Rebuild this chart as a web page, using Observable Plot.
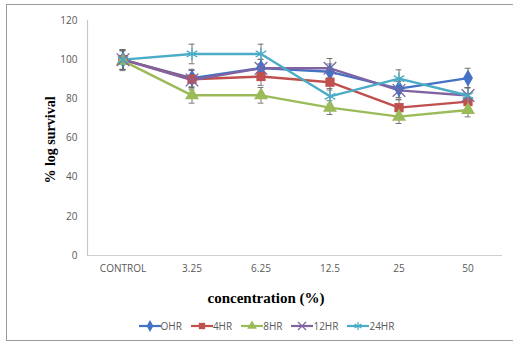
<!DOCTYPE html>
<html><head><meta charset="utf-8">
<script src="https://cdn.jsdelivr.net/npm/d3@7"></script>
<script src="https://cdn.jsdelivr.net/npm/@observablehq/plot@0.6"></script>
<style>
body{margin:0;background:#fff;}
#wrap{position:relative;width:513px;height:343px;overflow:hidden;font-family:"Open Sans",sans-serif;}
#frame{position:absolute;left:6px;top:4px;width:520px;height:337px;border:1px solid #9a9a9a;box-sizing:border-box;}
#chart{position:absolute;left:0;top:0;}
.ylab{position:absolute;left:51px;top:140px;transform:translate(-50%,-50%) rotate(-90deg);font:bold 14px "Liberation Serif",serif;color:#000;white-space:nowrap;}
.xlab{position:absolute;left:266px;top:298px;transform:translate(-50%,-50%);font:bold 15px "Liberation Serif",serif;color:#000;white-space:nowrap;}
#legend{position:absolute;left:10px;top:319px;width:513px;display:flex;justify-content:center;gap:9px;font-size:10px;color:#595959;}
#legend span{display:flex;align-items:center;}
</style></head>
<body><div id="wrap"><div id="frame"></div><div id="chart"></div>
<div class="ylab">% log survival</div><div class="xlab">concentration (%)</div><div id="legend"></div></div>
<script>
const categories = ["CONTROL","3.25","6.25","12.5","25","50"];
const seriesNames = ["OHR","4HR","8HR","12HR","24HR"];
const ohr  = [100, 90.6, 95.7, 93.8, 85.2, 90.6];
const hr4  = [100, 90.0, 91.4, 88.5, 75.5, 78.6];
const hr8  = [99.4, 81.8, 81.8, 75.5, 70.9, 74.3];
const hr12 = [100, 89.6, 95.6, 95.6, 84.3, 81.7];
const hr24 = [100, 102.9, 102.9, 81.3, 90.3, 81.7];
const errOhr  = [5, 4.5, 4.5, 4, 4.5, 5];
const errHr4  = [5, 4.5, 4.5, 4, 4, 4];
const errHr8  = [5, 4, 4, 3.5, 3.5, 3.5];
const errHr12 = [5, 5, 4.5, 5, 4.5, 4];
const errHr24 = [5, 5, 5, 4, 4.5, 4];
const yTicks = [0,20,40,60,80,100,120];
const colors = ["#4472C4","#C0504D","#9BBB59","#8064A2","#4BACC6"];
const symbols = ["diamond","square","triangle","times","asterisk"];

const values = [ohr,hr4,hr8,hr12,hr24];
const errs = [errOhr,errHr4,errHr8,errHr12,errHr24];
const data = [];
seriesNames.forEach((s,i)=>categories.forEach((c,j)=>data.push({series:s,cat:c,v:values[i][j],e:errs[i][j]})));

const W=513,H=310;
const plot = Plot.plot({
  width:W,height:H,
  marginLeft:87,marginRight:11,marginTop:20,marginBottom:55,
  style:{fontFamily:"Open Sans, sans-serif",fontSize:"10px",color:"#595959",background:"transparent"},
  x:{type:"band",domain:categories,padding:0,label:null,tickSize:0,tickPadding:9},
  y:{domain:[0,120],ticks:yTicks,label:null,tickSize:0,tickPadding:10},
  color:{domain:seriesNames,range:colors},
  symbol:{domain:seriesNames,range:symbols},
  marks:[
    Plot.axisX({tickSize:0,tickPadding:9,label:null,fill:"#595959"}),
    Plot.axisY({ticks:yTicks,tickSize:0,tickPadding:10,label:null,fill:"#595959"}),
    Plot.ruleY([0],{stroke:"#d0d0d0",strokeWidth:1.2}),
    Plot.frame({anchor:"left",stroke:"#c8c8c8",strokeWidth:1.2}),
    Plot.ruleX(data,{x:"cat",y1:d=>d.v-d.e,y2:d=>d.v+d.e,stroke:"#666",strokeWidth:0.9}),
    Plot.tickY(data,{x:"cat",y:d=>d.v-d.e,stroke:"#666",strokeWidth:0.9,insetLeft:31.6,insetRight:31.6}),
    Plot.tickY(data,{x:"cat",y:d=>d.v+d.e,stroke:"#666",strokeWidth:0.9,insetLeft:31.6,insetRight:31.6}),
    Plot.line(data,{x:"cat",y:"v",z:"series",stroke:"series",strokeWidth:2.4}),
    Plot.dot(data.filter(d=>d.series!=="12HR"&&d.series!=="24HR"),{x:"cat",y:"v",symbol:"series",fill:"series",r:5.2}),
    Plot.dot(data.filter(d=>d.series==="12HR"||d.series==="24HR"),{x:"cat",y:"v",symbol:"series",stroke:"series",strokeWidth:1.3,r:5.8})
  ]
});
document.getElementById("chart").appendChild(plot);

// legend
const leg = d3.select("#legend");
seriesNames.forEach((s,i)=>{
  const item = leg.append("span");
  const svg = item.append("svg").attr("width",22).attr("height",12);
  svg.append("line").attr("x1",0).attr("x2",22).attr("y1",6).attr("y2",6).attr("stroke",colors[i]).attr("stroke-width",2.2);
  const sym = d3.symbol().type({diamond:d3.symbolDiamond,square:d3.symbolSquare,triangle:d3.symbolTriangle,times:d3.symbolTimes,asterisk:d3.symbolAsterisk}[symbols[i]]).size(i<3?40:44);
  svg.append("path").attr("d",sym()).attr("transform","translate(11,6)")
    .attr("fill",i<3?colors[i]:"none").attr("stroke",i<3?"none":colors[i]).attr("stroke-width",1.2);
  item.append("span").text(s);
});
</script></body></html>
